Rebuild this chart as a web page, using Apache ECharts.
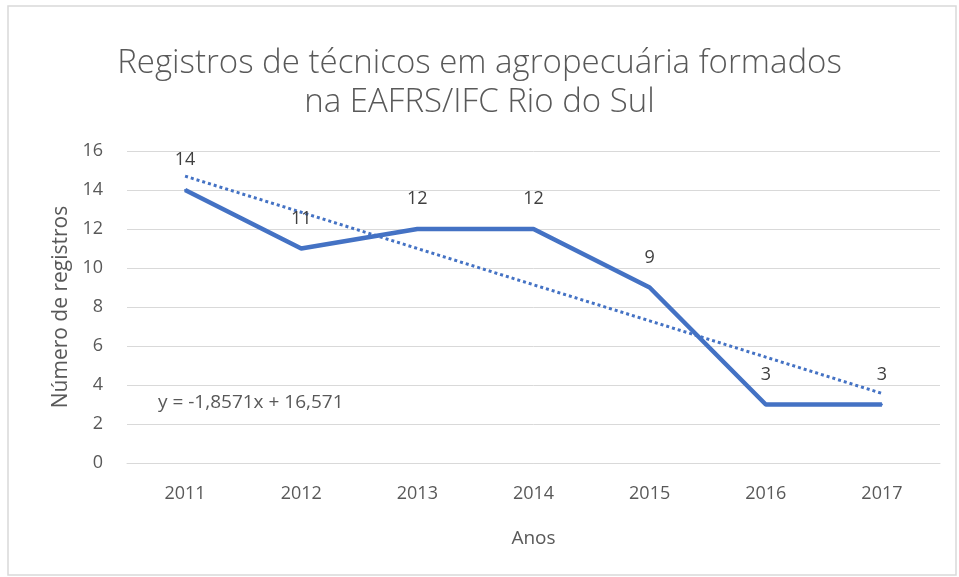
<!DOCTYPE html>
<html>
<head>
<meta charset="utf-8">
<script src="https://cdn.jsdelivr.net/npm/echarts@6/dist/echarts.min.js"></script>
<style>
  html, body { margin: 0; padding: 0; background: #fff; }
  #chart { width: 959px; height: 577px; }
</style>
</head>
<body>
<div id="chart"></div>
<script>
// dados
const anos = ['2011', '2012', '2013', '2014', '2015', '2016', '2017']
const registros = [14, 11, 12, 12, 9, 3, 3]
// linha de tendência (y = -1,8571x + 16,571)
const tendencia = [14.71, 12.86, 11.0, 9.14, 7.29, 5.43, 3.57]
const equacao = 'y = -1,8571x + 16,571'

const cinza = '#595959'
const azul = '#4472C4'
const fonte = '"Open Sans", sans-serif'

const chart = echarts.init(document.getElementById('chart'))
chart.setOption({
  backgroundColor: '#fff',
  animation: false,
  title: {
    text: 'Registros de técnicos em agropecuária formados\nna EAFRS/IFC Rio do Sul',
    left: 'center',
    top: 39,
    textStyle: {
      fontFamily: fonte,
      fontWeight: 300,
      fontSize: 33,
      color: cinza,
      lineHeight: 39
    }
  },
  grid: { left: 127, right: 19, top: 151, bottom: 114 },
  xAxis: {
    type: 'category',
    data: anos,
    name: 'Anos',
    nameLocation: 'middle',
    nameGap: 66,
    nameTextStyle: { fontFamily: fonte, fontSize: 19, color: cinza },
    axisLine: { lineStyle: { color: '#d9d9d9' } },
    axisTick: { show: false },
    axisLabel: { fontFamily: fonte, fontSize: 18, color: cinza, margin: 22 }
  },
  yAxis: {
    type: 'value',
    min: 0,
    max: 16,
    interval: 2,
    name: 'Número de registros',
    nameLocation: 'middle',
    nameGap: 52,
    nameTextStyle: { fontFamily: fonte, fontSize: 21, color: cinza },
    axisLine: { show: false },
    axisTick: { show: false },
    splitLine: { lineStyle: { color: '#d9d9d9' } },
    axisLabel: { fontFamily: fonte, fontSize: 18, color: cinza, margin: 24 }
  },
  series: [
    {
      name: 'Tendência',
      type: 'line',
      data: tendencia,
      symbol: 'none',
      lineStyle: { color: azul, width: 3, type: [3, 3] },
      z: 2
    },
    {
      name: 'Registros',
      type: 'line',
      data: registros,
      symbol: 'circle',
      symbolSize: 2,
      showSymbol: true,
      itemStyle: { color: azul },
      lineStyle: { color: azul, width: 4.5 },
      label: {
        show: true,
        position: 'top',
        distance: 20,
        fontFamily: fonte,
        fontSize: 18,
        color: '#404040'
      },
      labelLayout: { hideOverlap: false },
      z: 3
    }
  ],
  graphic: [
    {
      type: 'rect',
      shape: { x: 8, y: 6, width: 948, height: 569 },
      style: { fill: 'none', stroke: '#d9d9d9', lineWidth: 1.5 },
      silent: true
    },
    {
      type: 'text',
      left: 158,
      top: 393,
      style: { text: equacao, fontFamily: fonte, fontSize: 19, fill: cinza }
    }
  ]
})
</script>
</body>
</html>
